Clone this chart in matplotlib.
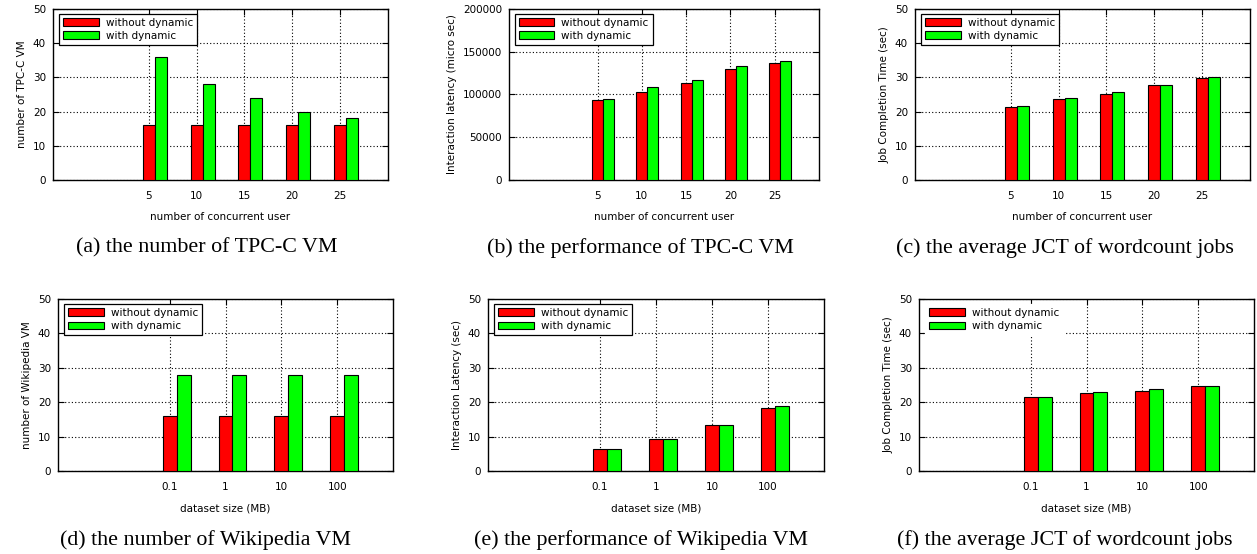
import numpy as np
import matplotlib
matplotlib.use("Agg")
import matplotlib.pyplot as plt

# ----------------------------------------
# Data
# ----------------------------------------
users = ["5", "10", "15", "20", "25"]
sizes = ["0.1", "1", "10", "100"]

tpcc_vm_without = [16, 16, 16, 16, 16]
tpcc_vm_with = [36, 28, 24, 20, 18]

tpcc_lat_without = [94000, 103500, 113500, 129800, 136400]
tpcc_lat_with = [94200, 108700, 116500, 133300, 139500]

jct_users_without = [21.3, 23.6, 25.2, 27.7, 29.8]
jct_users_with = [21.5, 23.9, 25.7, 27.8, 30.0]

wiki_vm_without = [16, 16, 16, 16]
wiki_vm_with = [28, 28, 28, 28]

wiki_lat_without = [6.5, 9.3, 13.5, 18.3]
wiki_lat_with = [6.5, 9.3, 13.5, 18.8]

jct_size_without = [21.4, 22.6, 23.2, 24.7]
jct_size_with = [21.6, 22.9, 23.7, 24.8]

RED = "#ff0000"
GREEN = "#00ff00"
W, H = 1257, 554

plt.rcParams["font.family"] = "DejaVu Sans"
plt.rcParams["font.size"] = 7.5

fig = plt.figure(figsize=(W / 100, H / 100), dpi=100)


def make_axes(left, right, top, bottom):
    return fig.add_axes([left / W, 1 - bottom / H, (right - left) / W, (bottom - top) / H])


def draw_panel(ax, cats, without, with_, ymax, ystep, ylabel, xlabel):
    x = np.arange(len(cats))
    bw = 0.25
    ax.bar(x, without, bw, color=RED, edgecolor="black", linewidth=0.8,
           label="without dynamic", zorder=3)
    ax.bar(x + bw, with_, bw, color=GREEN, edgecolor="black", linewidth=0.8,
           label="with dynamic", zorder=3)
    ax.set_xlim(-2, len(cats))
    ax.set_ylim(0, ymax)
    ax.set_xticks(x)
    ax.set_xticklabels(cats)
    ax.set_yticks(np.arange(0, ymax + 1, ystep))
    ax.grid(True, linestyle=(0, (1, 2)), color="black", linewidth=0.8, zorder=0)
    ax.tick_params(direction="in", top=True, right=True, length=4, width=0.8)
    ax.tick_params(axis="x", pad=8)
    ax.tick_params(axis="y", pad=5)
    for s in ax.spines.values():
        s.set_linewidth(1.0)
    ax.set_ylabel(ylabel, labelpad=4)
    ax.set_xlabel(xlabel, labelpad=8)


def add_legend(ax, frame=True):
    leg = ax.legend(loc="upper left", bbox_to_anchor=(0.018, 0.972), frameon=True,
                    fancybox=False, framealpha=1, handlelength=3.4, handleheight=0.8,
                    borderpad=0.4, labelspacing=0.3, handletextpad=0.7,
                    borderaxespad=0.0, fontsize=7.5)
    leg.get_frame().set_linewidth(0.9)
    leg.get_frame().set_edgecolor("black" if frame else "white")
    leg.set_zorder(5)


# top row
ax_a = make_axes(53, 388, 9, 180)
draw_panel(ax_a, users, tpcc_vm_without, tpcc_vm_with, 50, 10,
           "number of TPC-C VM", "number of concurrent user")
add_legend(ax_a)

ax_b = make_axes(509, 819, 9, 180)
draw_panel(ax_b, users, tpcc_lat_without, tpcc_lat_with, 200000, 50000,
           "Interaction latency (micro sec)", "number of concurrent user")
add_legend(ax_b)

ax_c = make_axes(915, 1250, 9, 180)
draw_panel(ax_c, users, jct_users_without, jct_users_with, 50, 10,
           "Job Completion Time (sec)", "number of concurrent user")
add_legend(ax_c)

# bottom row
ax_d = make_axes(58, 393, 299, 471)
draw_panel(ax_d, sizes, wiki_vm_without, wiki_vm_with, 50, 10,
           "number of Wikipedia VM", "dataset size (MB)")
add_legend(ax_d)

ax_e = make_axes(488, 824, 299, 471)
draw_panel(ax_e, sizes, wiki_lat_without, wiki_lat_with, 50, 10,
           "Interaction Latency (sec)", "dataset size (MB)")
add_legend(ax_e)

ax_f = make_axes(919, 1254, 299, 471)
draw_panel(ax_f, sizes, jct_size_without, jct_size_with, 50, 10,
           "Job Completion Time (sec)", "dataset size (MB)")
add_legend(ax_f, frame=False)

# captions
captions = [
    (207, 248, "(a) the number of TPC-C VM"),
    (640, 248, "(b) the performance of TPC-C VM"),
    (1065, 248, "(c) the average JCT of wordcount jobs"),
    (205, 540, "(d) the number of Wikipedia VM"),
    (641, 540, "(e) the performance of Wikipedia VM"),
    (1065, 540, "(f) the average JCT of wordcount jobs"),
]
for cx, cy, txt in captions:
    fig.text(cx / W, 1 - cy / H, txt, ha="center", va="center",
             family="Liberation Serif", fontsize=15.8)

fig.savefig("out.png", dpi=100)
